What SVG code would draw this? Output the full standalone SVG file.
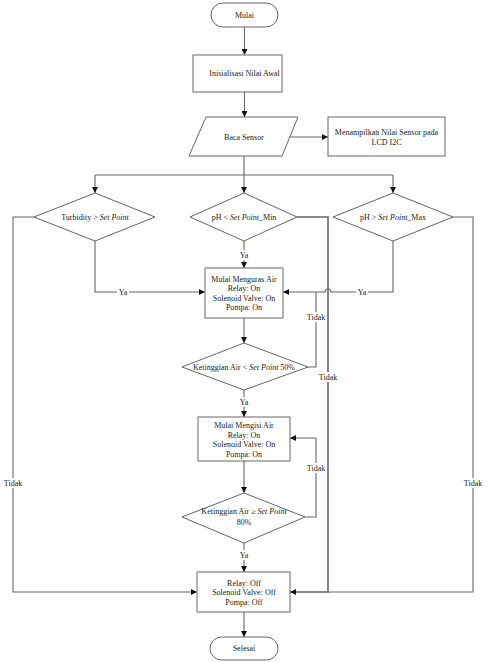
<svg xmlns="http://www.w3.org/2000/svg" width="489" height="662" viewBox="0 0 489 662">
<style>
.s{fill:#fff;stroke:#666;stroke-width:1}
.t{font-family:"Liberation Serif",serif;font-size:8px;fill:#222;text-anchor:middle;dominant-baseline:central}
.c{fill:none;stroke:#666;stroke-width:1.1}
.bg{fill:#fff}
</style>
<defs>
<marker id="ah" markerUnits="userSpaceOnUse" markerWidth="6" markerHeight="6" refX="6" refY="3" orient="auto">
<path d="M0,0 L6,3 L0,6 z" fill="#111"/>
</marker>
</defs>
<rect width="489" height="662" fill="#fff"/>
<g id="connectors">
<path class="c" d="M244.5,27 V55" marker-end="url(#ah)"/>
<path class="c" d="M244.5,92 V117" marker-end="url(#ah)"/>
<path class="c" d="M290,137 H328" marker-end="url(#ah)"/>
<path class="c" d="M244,156 V175 M95,175 H393"/>
<path class="c" d="M95,175 V193" marker-end="url(#ah)"/>
<path class="c" d="M244,175 V193" marker-end="url(#ah)"/>
<path class="c" d="M393,175 V193" marker-end="url(#ah)"/>
<path class="c" d="M95,241 V292 H205" marker-end="url(#ah)"/>
<path class="c" d="M244,241 V268" marker-end="url(#ah)"/>
<path class="c" d="M393,241 V292 H331 A3,3 0 0 0 325,292 H283" marker-end="url(#ah)"/>
<path class="c" d="M34,217 H13 V592 H197" marker-end="url(#ah)"/>
<path class="c" style="stroke-width:1.6" d="M297,217 H328 V592 H290" marker-end="url(#ah)"/>
<path class="c" d="M453,217 H473 V592 H328"/>
<path class="c" d="M244,318 V343" marker-end="url(#ah)"/>
<path class="c" d="M308,367 H316 V292"/>
<path class="c" d="M244,390 V417" marker-end="url(#ah)"/>
<path class="c" d="M244,461 V493" marker-end="url(#ah)"/>
<path class="c" d="M305,517 H316 V438 H290" marker-end="url(#ah)"/>
<path class="c" d="M244,543 V572" marker-end="url(#ah)"/>
<path class="c" d="M244,612 V637" marker-end="url(#ah)"/>
<rect class="bg" x="117" y="287" width="12" height="10"/><text class="t" x="123" y="292">Ya</text>
<rect class="bg" x="238" y="250" width="12" height="10"/><text class="t" x="244" y="255">Ya</text>
<rect class="bg" x="356" y="287" width="12" height="10"/><text class="t" x="362" y="292">Ya</text>
<rect class="bg" x="238" y="397" width="12" height="10"/><text class="t" x="244" y="402">Ya</text>
<rect class="bg" x="238" y="550" width="12" height="10"/><text class="t" x="244" y="555">Ya</text>
<rect class="bg" x="3" y="478" width="20" height="10"/><text class="t" x="13" y="483">Tidak</text>
<rect class="bg" x="463" y="478" width="20" height="10"/><text class="t" x="473" y="483">Tidak</text>
<rect class="bg" x="318" y="372" width="20" height="10"/><text class="t" x="328" y="377">Tidak</text>
<rect class="bg" x="306" y="312" width="20" height="10"/><text class="t" x="316" y="317">Tidak</text>
<rect class="bg" x="306" y="463" width="20" height="10"/><text class="t" x="316" y="468">Tidak</text>
</g>
<g id="start"><rect class="s" x="211" y="3" width="67" height="24" rx="12"/><text class="t" x="244.5" y="15">Mulai</text></g>
<g id="init"><rect class="s" x="193" y="55" width="89" height="37"/><text class="t" x="244.5" y="73.5">Inisialisasi Nilai Awal</text></g>
<g id="read"><polygon class="s" points="206,117 298,117 282,156 189,156"/><text class="t" x="244" y="137">Baca Sensor</text></g>
<g id="lcd"><rect class="s" x="328" y="117" width="117" height="39"/><text class="t" x="386.5" y="132">Menampilkan Nilai Sensor pada</text><text class="t" x="386.5" y="142">LCD I2C</text></g>
<g id="turbidity"><polygon class="s" points="95,193 155,217 95,241 34,217"/><text class="t" x="95" y="217">Turbidity &gt; <tspan font-style="italic">Set Point</tspan></text></g>
<g id="phmin"><polygon class="s" points="244,193 297,217 244,241 190,217"/><text class="t" x="244" y="217">pH &lt; <tspan font-style="italic">Set Point</tspan>_Min</text></g>
<g id="phmax"><polygon class="s" points="393,193 453,217 393,241 333,217"/><text class="t" x="393" y="217">pH &gt; <tspan font-style="italic">Set Point</tspan>_Max</text></g>
<g id="drain"><rect class="s" x="205" y="268" width="78" height="50"/><text class="t" x="244" y="279">Mulai Menguras Air</text><text class="t" x="244" y="288.5">Relay: On</text><text class="t" x="244" y="298">Solenoid Valve: On</text><text class="t" x="244" y="307.5">Pompa: On</text></g>
<g id="level50"><polygon class="s" points="244,343 308,367 244,390 182,367"/><text class="t" x="244" y="367">Ketinggian Air &lt; <tspan font-style="italic">Set Point</tspan> 50%</text></g>
<g id="fill"><rect class="s" x="198" y="417" width="92" height="44"/><text class="t" x="244" y="425.5">Mulai Mengisi Air</text><text class="t" x="244" y="435">Relay: On</text><text class="t" x="244" y="444.5">Solenoid Valve: On</text><text class="t" x="244" y="454">Pompa: On</text></g>
<g id="level80"><polygon class="s" points="244,493 305,517 244,543 182,517"/><text class="t" x="244" y="511">Ketinggian Air ≥ <tspan font-style="italic">Set Point</tspan></text><text class="t" x="244" y="522">80%</text></g>
<g id="off"><rect class="s" x="197" y="572" width="93" height="40"/><text class="t" x="244" y="583">Relay: Off</text><text class="t" x="244" y="592.5">Solenoid Valve: Off</text><text class="t" x="244" y="602">Pompa: Off</text></g>
<g id="end"><rect class="s" x="210" y="637" width="68" height="23" rx="11.5"/><text class="t" x="244" y="648.5">Selesai</text></g>
</svg>
